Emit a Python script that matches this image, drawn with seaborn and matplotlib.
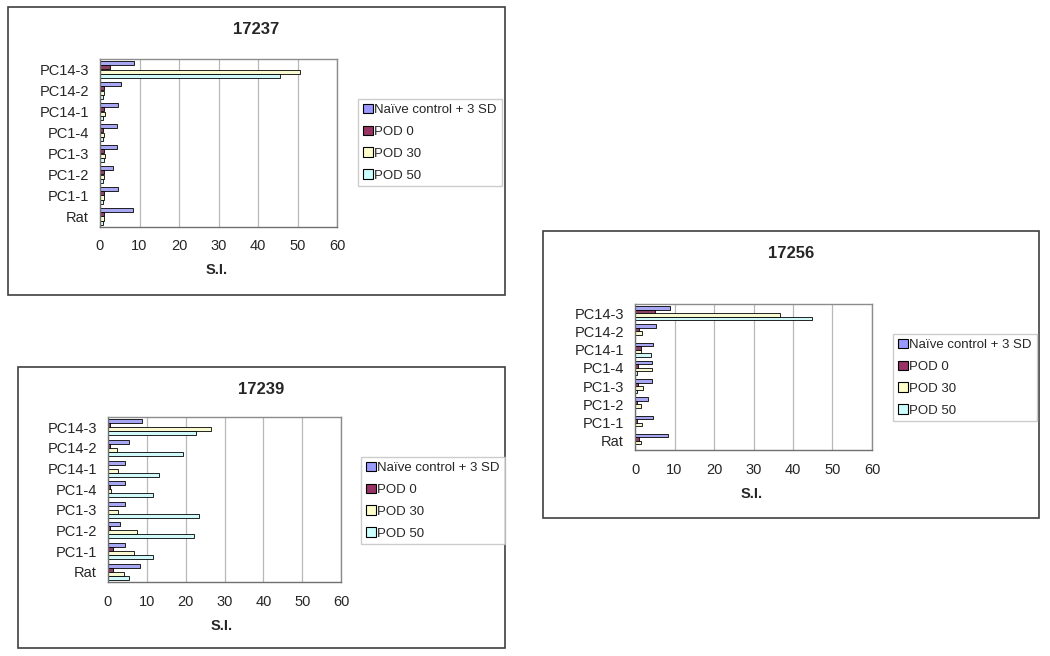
import pandas as pd
import matplotlib.pyplot as plt
import seaborn as sns
from matplotlib.patches import Rectangle, Patch

# categories (top to bottom) and series
categories = ["PC14-3", "PC14-2", "PC14-1", "PC1-4", "PC1-3", "PC1-2", "PC1-1", "Rat"]
series = ["Naïve control + 3 SD", "POD 0", "POD 30", "POD 50"]
colors = ["#9999FF", "#993366", "#FFFFCC", "#CCFFFF"]

# 17237
naive_17237 = [8.7, 5.3, 4.5, 4.3, 4.3, 3.2, 4.5, 8.4]
pod0_17237 = [2.5, 1.1, 1.0, 0.8, 1.1, 0.9, 0.9, 0.9]
pod30_17237 = [50.7, 1.1, 1.3, 1.1, 1.3, 1.1, 1.1, 1.1]
pod50_17237 = [45.6, 0.8, 0.8, 0.8, 1.1, 0.8, 0.8, 0.7]

# 17239
naive_17239 = [8.7, 5.3, 4.5, 4.3, 4.3, 3.2, 4.5, 8.3]
pod0_17239 = [0.6, 0.6, 0.1, 0.6, 0.1, 0.6, 1.2, 1.4]
pod30_17239 = [26.4, 2.2, 2.5, 0.9, 2.7, 7.4, 6.6, 4.0]
pod50_17239 = [22.6, 19.3, 13.2, 11.7, 23.4, 22.1, 11.7, 5.3]

# 17256
naive_17256 = [8.8, 5.3, 4.6, 4.3, 4.3, 3.3, 4.6, 8.3]
pod0_17256 = [5.0, 0.9, 1.4, 0.7, 0.7, 0.6, 0.6, 0.9]
pod30_17256 = [36.7, 1.7, 1.4, 4.3, 2.0, 1.4, 1.7, 1.4]
pod50_17256 = [44.7, 0.0, 4.0, 0.6, 0.6, 0.0, 0.0, 0.0]

sns.set_style("white")
plt.rcParams["font.family"] = ["Liberation Sans", "DejaVu Sans"]

fig = plt.figure(figsize=(10.5, 6.56), dpi=100)

W, H = 1050, 656


def fig_rect(x0, y0, x1, y1):
    # pixel box (top-left origin) -> figure fraction [left, bottom, width, height]
    return [x0 / W, 1 - y1 / H, (x1 - x0) / W, (y1 - y0) / H]


def draw_panel(title, values, box, plot, title_xy, legend_xy, xlabel_xy):
    # outer chart border
    l, b, w, h = fig_rect(*box)
    fig.add_artist(Rectangle((l, b), w, h, transform=fig.transFigure,
                             fill=False, edgecolor="#404040", linewidth=1.2))

    df = pd.DataFrame({
        "antigen": categories * 4,
        "group": [s for s in series for _ in categories],
        "si": [v for vals in values for v in vals],
    })
    ax = fig.add_axes(fig_rect(*plot))
    sns.barplot(data=df, y="antigen", x="si", hue="group", order=categories,
                hue_order=series, palette=colors, orient="h", width=0.78,
                edgecolor="black", linewidth=0.6, ax=ax, legend=False)

    ax.set_xlim(0, 60)
    ax.set_xticks(range(0, 61, 10))
    ax.set_ylim(7.5, -0.5)
    ax.set_xlabel("")
    ax.set_ylabel("")
    ax.set_axisbelow(True)
    ax.grid(axis="x", color="#B8B8B8", linewidth=0.9)
    ax.grid(axis="y", visible=False)
    for s in ax.spines.values():
        s.set_color("#8C8C8C")
        s.set_linewidth(1.0)
    ax.spines["left"].set_color("#707070")
    ax.spines["bottom"].set_color("#707070")
    ax.set_yticks([i + 0.5 for i in range(-1, 8)], minor=True)
    ax.tick_params(axis="y", which="major", length=0, labelsize=10.5, pad=8)
    ax.tick_params(axis="y", which="minor", length=4, color="#707070", direction="out")
    ax.tick_params(axis="x", length=4, color="#707070", direction="out",
                   labelsize=10.5, pad=5)

    fig.text(title_xy[0] / W, 1 - title_xy[1] / H, title, ha="center",
             va="center", fontsize=12, fontweight="bold")
    fig.text(xlabel_xy[0] / W, 1 - xlabel_xy[1] / H, "S.I.", ha="center",
             va="center", fontsize=10.5, fontweight="bold")

    handles = [Patch(facecolor=c, edgecolor="black", linewidth=0.8) for c in colors]
    fig.legend(handles, series, loc="upper left",
               bbox_to_anchor=(legend_xy[0] / W, 1 - legend_xy[1] / H),
               frameon=True, fancybox=False, edgecolor="#C0C0C0",
               fontsize=9.5, handlelength=0.75, handleheight=0.75,
               handletextpad=0.15, labelspacing=0.72, borderpad=0.35,
               borderaxespad=0)


draw_panel("17237", [naive_17237, pod0_17237, pod30_17237, pod50_17237],
           box=(8, 7, 505, 295), plot=(100, 59, 337, 227),
           title_xy=(256, 29), legend_xy=(358, 99), xlabel_xy=(217, 270))

draw_panel("17239", [naive_17239, pod0_17239, pod30_17239, pod50_17239],
           box=(18, 367, 505, 648), plot=(108, 417, 341, 582),
           title_xy=(261, 389), legend_xy=(361, 457), xlabel_xy=(222, 626))

draw_panel("17256", [naive_17256, pod0_17256, pod30_17256, pod50_17256],
           box=(543, 231, 1039, 518), plot=(635, 304, 872, 450),
           title_xy=(791, 253), legend_xy=(893, 334), xlabel_xy=(752, 494))

fig.savefig("out.png", dpi=100, facecolor="white")
